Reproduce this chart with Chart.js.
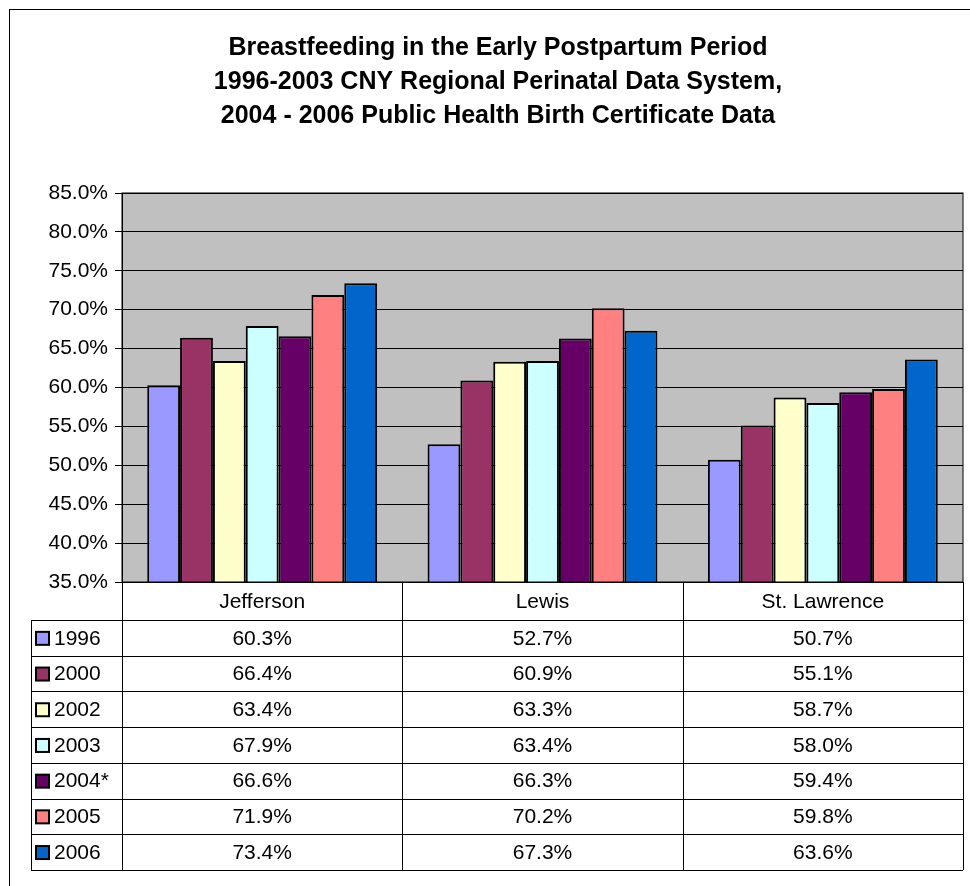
<!DOCTYPE html>
<html>
<head>
<meta charset="utf-8">
<script src="https://cdn.jsdelivr.net/npm/chart.js@4.4.0/dist/chart.umd.min.js"></script>
<style>
  body { margin: 0; background: #fff; }
  #wrap { width: 970px; height: 886px; }
</style>
</head>
<body>
<div id="wrap"><canvas id="chart" width="970" height="886"></canvas></div>
<script>
const counties = ["Jefferson", "Lewis", "St. Lawrence"];
const years = ["1996", "2000", "2002", "2003", "2004*", "2005", "2006"];
const v1996 = [60.3, 52.7, 50.7];
const v2000 = [66.4, 60.9, 55.1];
const v2002 = [63.4, 63.3, 58.7];
const v2003 = [67.9, 63.4, 58.0];
const v2004 = [66.6, 66.3, 59.4];
const v2005 = [71.9, 70.2, 59.8];
const v2006 = [73.4, 67.3, 63.6];
const seriesValues = [v1996, v2000, v2002, v2003, v2004, v2005, v2006];
const colors = ["#9999FF", "#993366", "#FFFFCC", "#CCFFFF", "#660066", "#FF8080", "#0066CC"];

const FONT = "'Liberation Sans', Arial, sans-serif";

const titleLines = [
  "Breastfeeding in the Early Postpartum Period",
  "1996-2003 CNY Regional Perinatal Data System,",
  "2004 - 2006 Public Health Birth Certificate Data"
];

// frame, gray plot background and title
const background = {
  id: "background",
  beforeDraw(chart) {
    const ctx = chart.ctx, ca = chart.chartArea;
    ctx.save();
    ctx.fillStyle = "#fff";
    ctx.fillRect(0, 0, chart.width, chart.height);
    ctx.strokeStyle = "#000";
    ctx.lineWidth = 1;
    ctx.strokeRect(9.5, 9.5, 1000, 1000);
    ctx.fillStyle = "#C0C0C0";
    ctx.fillRect(ca.left, ca.top, ca.right - ca.left, ca.bottom - ca.top);
    ctx.fillStyle = "#000";
    ctx.font = "bold 25px " + FONT;
    ctx.textAlign = "center";
    ctx.textBaseline = "middle";
    titleLines.forEach((t, i) => ctx.fillText(t, 498, 48 + i * 34));
    ctx.restore();
  }
};

// data table under the plot
const dataTable = {
  id: "dataTable",
  afterDraw(chart) {
    const ctx = chart.ctx, ca = chart.chartArea, xs = chart.scales.x;
    const colW = (ca.right - ca.left) / counties.length;
    const tableLeft = 31;
    const hdrH = 38, rowH = 35.7;
    const y0 = ca.bottom, y1 = y0 + hdrH;
    const yEnd = y1 + rowH * years.length;
    ctx.save();
    ctx.strokeStyle = "#000";
    ctx.lineWidth = 1;
    ctx.strokeRect(ca.left, ca.top, ca.right - ca.left, ca.bottom - ca.top);
    ctx.beginPath();
    for (let r = 0; r <= years.length; r++) {
      const y = Math.round(y1 + r * rowH) + 0.5;
      ctx.moveTo(tableLeft, y);
      ctx.lineTo(ca.right, y);
    }
    for (let c = 0; c <= counties.length; c++) {
      const x = Math.round(ca.left + c * colW) + 0.5;
      ctx.moveTo(x, y0);
      ctx.lineTo(x, yEnd);
    }
    ctx.moveTo(tableLeft + 0.5, y1);
    ctx.lineTo(tableLeft + 0.5, yEnd);
    ctx.stroke();

    ctx.fillStyle = "#000";
    ctx.font = "21px " + FONT;
    ctx.textBaseline = "middle";
    ctx.textAlign = "center";
    counties.forEach((name, i) => {
      ctx.fillText(name, xs.getPixelForValue(i), y0 + hdrH / 2 + 1);
    });
    chart.data.datasets.forEach((ds, r) => {
      const yc = y1 + r * rowH + rowH / 2 + 1;
      ds.data.forEach((v, i) => {
        ctx.fillStyle = "#000";
        ctx.textAlign = "center";
        ctx.fillText(v.toFixed(1) + "%", xs.getPixelForValue(i), yc);
      });
      // legend key
      ctx.fillStyle = ds.backgroundColor;
      ctx.fillRect(36, yc - 7, 13, 13);
      ctx.lineWidth = 2;
      ctx.strokeRect(36, yc - 7, 13, 13);
      ctx.fillStyle = "#000";
      ctx.textAlign = "left";
      ctx.fillText(ds.label, 54, yc);
    });
    ctx.restore();
  }
};

new Chart(document.getElementById("chart"), {
  type: "bar",
  data: {
    labels: counties,
    datasets: years.map((y, i) => ({
      label: y,
      data: seriesValues[i],
      backgroundColor: colors[i],
      borderColor: "#000",
      borderWidth: 2,
      borderSkipped: false,
      categoryPercentage: 0.82,
      barPercentage: 1
    }))
  },
  options: {
    responsive: false,
    animation: false,
    layout: { padding: { left: 0, right: 7, top: 193, bottom: 304 } },
    plugins: {
      legend: { display: false },
      title: { display: false },
      tooltip: { enabled: false }
    },
    scales: {
      x: { display: false },
      y: {
        min: 35,
        max: 85,
        afterFit(scale) { scale.width = 122; },
        ticks: {
          stepSize: 5,
          color: "#000",
          padding: 7,
          font: { family: FONT, size: 21 },
          callback: (v) => v.toFixed(1) + "%"
        },
        grid: { color: "#000", lineWidth: 1, tickLength: 7, drawTicks: true },
        border: { display: true, color: "#000", width: 1 }
      }
    }
  },
  plugins: [background, dataTable]
});
</script>
</body>
</html>
